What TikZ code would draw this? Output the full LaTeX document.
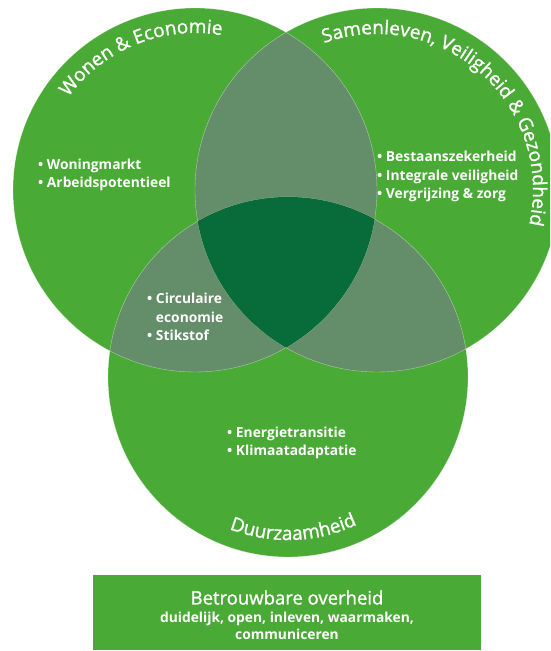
\documentclass[tikz,border=0pt]{standalone}
\usepackage{fontspec}
\setmainfont{Open Sans}
\newfontfamily\halfvet{Open Sans}[FakeBold=1.2]
\usetikzlibrary{decorations.text}
\definecolor{groen}{RGB}{74,170,54}
\definecolor{grijs}{RGB}{100,141,105}
\definecolor{donker}{RGB}{8,108,58}
\newcommand\boogtekst{\color{white}\fontsize{19}{19}\halfvet}

\begin{document}
\begin{tikzpicture}[x=1pt,y=1pt,
  lijst/.style={text=white,font=\fontsize{13.8}{18.5}\selectfont\bfseries,align=left,anchor=base west,inner sep=0pt},
  lijn/.style={draw=white,draw opacity=.5,line width=.4pt},
  kader/.style={fill=groen,minimum width=388pt,minimum height=75pt,inner sep=0pt},
  kadertekst/.style={text=white,font=\fontsize{13.8}{17}\selectfont\bfseries,align=center,anchor=base,inner sep=0pt}]
  \useasboundingbox (0,0) rectangle (550,651);
  \clip (0,0) rectangle (550,651);
  \coordinate (wonen) at (195,461);
  \coordinate (samen) at (377,461);
  \coordinate (duurz) at (288,274);
  % cirkels en overlap
  \fill[groen] (wonen) circle (182) (samen) circle (182) (duurz) circle (180);
  \begin{scope}
    \clip (wonen) circle (182);
    \fill[grijs] (samen) circle (182) (duurz) circle (180);
  \end{scope}
  \begin{scope}
    \clip (samen) circle (182);
    \fill[grijs] (duurz) circle (180);
  \end{scope}
  \draw[lijn] (wonen) circle (182) (samen) circle (182) (duurz) circle (180);
  \begin{scope}
    \clip (wonen) circle (182);
    \clip (samen) circle (182);
    \fill[donker] (duurz) circle (180);
  \end{scope}
  % titels langs de rand
  \path[decorate,decoration={text along path,text align=center,
    text={|\boogtekst|Wonen {\&} Economie}}] (wonen) ++(172:157) arc (172:52:157);
  \path[decorate,decoration={text along path,text align=center,
    text={|\boogtekst|Samenleven, Veiligheid {\&} Gezondheid}}] (samen) ++(130:156) arc (130:-33:156);
  \path[decorate,decoration={text along path,text align=center,
    text={|\boogtekst|Duurzaamheid}}] (duurz) ++(-148:163) arc (-148:-28:163);
  % lijstjes
  \node[lijst] (wonenlijst) at (38,463) {\textbullet\ Woningmarkt\\\textbullet\ Arbeidspotentieel};
  \node[lijst] (samenlijst) at (377,452) {\textbullet\ Bestaanszekerheid\\\textbullet\ Integrale veiligheid\\\textbullet\ Vergrijzing {\&} zorg};
  \node[lijst] (overlaplijst) at (147,310) {\textbullet\ Circulaire\\\phantom{\textbullet\ }economie\\\textbullet\ Stikstof};
  \node[lijst] (duurzlijst) at (227,195) {\textbullet\ Energietransitie\\\textbullet\ Klimaatadaptatie};
  % kader onderaan
  \node[kader] (overheid) at (287,38.5) {};
  \node[kadertekst] (overheidtekst) at (overheid.center |- 0,11) {{\fontsize{18.5}{20}\mdseries\halfvet Betrouwbare overheid}\\[1.5pt]
    duidelijk, open, inleven, waarmaken,\\communiceren};
\end{tikzpicture}
\end{document}
